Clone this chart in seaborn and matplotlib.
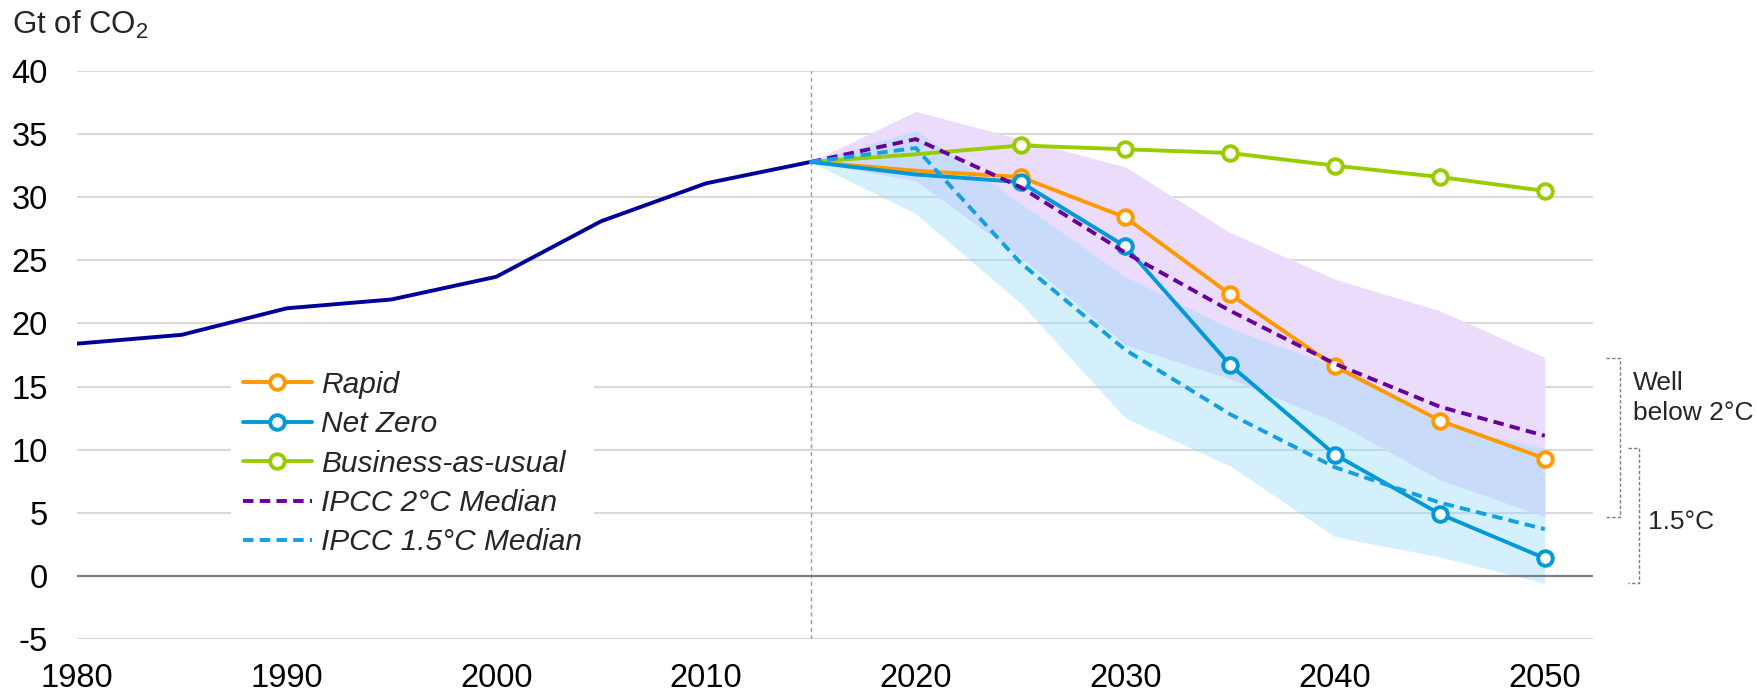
import numpy as np
import pandas as pd
import matplotlib
matplotlib.use("Agg")
import matplotlib.pyplot as plt
from matplotlib.lines import Line2D
import seaborn as sns

# ---- data -------------------------------------------------------------
hist_years = [1980, 1985, 1990, 1995, 2000, 2005, 2010, 2015]
hist_co2 = [18.4, 19.1, 21.2, 21.9, 23.7, 28.1, 31.1, 32.8]

scen_years = [2015, 2020, 2025, 2030, 2035, 2040, 2045, 2050]
rapid = [32.8, 32.1, 31.6, 28.4, 22.3, 16.6, 12.3, 9.3]
net_zero = [32.8, 31.8, 31.2, 26.1, 16.7, 9.6, 4.9, 1.4]
business_as_usual = [32.8, 33.4, 34.1, 33.8, 33.5, 32.5, 31.6, 30.5]
ipcc_2c_median = [32.8, 34.6, 30.8, 25.6, 21.0, 16.8, 13.4, 11.1]
ipcc_15c_median = [32.8, 33.9, 24.8, 17.9, 12.8, 8.6, 5.8, 3.7]

# IPCC scenario ranges
ipcc_2c_high = [32.8, 36.8, 34.6, 32.4, 27.2, 23.5, 21.0, 17.3]
ipcc_2c_low = [32.8, 31.3, 25.3, 18.3, 15.6, 12.2, 7.6, 4.7]
ipcc_15c_high = [32.8, 35.3, 29.5, 23.7, 19.6, 16.6, 12.0, 10.1]
ipcc_15c_low = [32.8, 28.7, 21.6, 12.5, 8.7, 3.1, 1.5, -0.6]

y_ticks = [-5, 0, 5, 10, 15, 20, 25, 30, 35, 40]
x_ticks = [1980, 1990, 2000, 2010, 2020, 2030, 2040, 2050]

# ---- style ------------------------------------------------------------
sns.set_theme(style="white")
plt.rcParams["font.family"] = ["Liberation Sans", "DejaVu Sans"]
plt.rcParams["mathtext.default"] = "regular"

C_HIST = "#000099"
C_RAPID = "#FF9900"
C_NZ = "#0099D8"
C_BAU = "#99CC00"
C_2C = "#660099"
C_15C = "#14A0E0"

fig = plt.figure(figsize=(17.57, 6.95), dpi=100)
ax = fig.add_axes([77 / 1757, 1 - 639 / 695, (1593 - 77) / 1757, (639 - 71) / 695])

ax.set_xlim(1980, 2052.3)
ax.set_ylim(-5, 40)

# grid
for v in y_ticks:
    if v == 0:
        continue
    ax.axhline(v, color="#D9D9D9", lw=1.5, zorder=0)
ax.axhline(0, color="#7F7F7F", lw=1.6, zorder=5.5)
ax.axvline(2015, color="#9A9A9A", lw=1.0, ls=(0, (3, 2.5)), zorder=0.6)

# ranges
ax.fill_between(scen_years, ipcc_2c_low, ipcc_2c_high, color="#EBDCFC", lw=0, zorder=1)
ax.fill_between(scen_years, ipcc_15c_low, ipcc_15c_high, color=(145 / 255, 218 / 255, 250 / 255),
                alpha=0.38, lw=0, zorder=1.1)

LW = 2.8
MS = 10.5
MEW = 2.8
mk = dict(marker="o", markersize=MS, markerfacecolor="white", markeredgewidth=MEW,
          markevery=list(range(2, len(scen_years))))

hist_df = pd.DataFrame({"year": hist_years, "co2": hist_co2})
sns.lineplot(data=hist_df, x="year", y="co2", color=C_HIST, linewidth=LW, ax=ax, zorder=3)

for vals, col, z in [(business_as_usual, C_BAU, 3), (rapid, C_RAPID, 3.1), (net_zero, C_NZ, 3.2)]:
    df = pd.DataFrame({"year": scen_years, "co2": vals})
    sns.lineplot(data=df, x="year", y="co2", color=col, linewidth=LW, ax=ax, zorder=z,
                 markeredgecolor=col, **mk)

dash = (0, (2.7, 1.6))
for vals, col in [(ipcc_2c_median, C_2C), (ipcc_15c_median, C_15C)]:
    df = pd.DataFrame({"year": scen_years, "co2": vals})
    sns.lineplot(data=df, x="year", y="co2", color=col, linewidth=LW, linestyle=dash, ax=ax, zorder=3.5)

# axes cosmetics
sns.despine(ax=ax, left=True, bottom=True)
ax.set_xticks(x_ticks)
ax.set_yticks(y_ticks)
ax.set_xticklabels([str(t) for t in x_ticks])
ax.set_yticklabels([str(t) for t in y_ticks])
ax.tick_params(axis="both", length=0, labelsize=23.5, colors="black")
ax.tick_params(axis="y", pad=21)
ax.tick_params(axis="x", pad=17)
ax.set_xlabel("")
ax.set_ylabel("")

fig.text(12 / 1757, 1 - 34 / 695, "Gt of CO$_2$", fontsize=22.5, ha="left", va="baseline")

# legend
def marker_handle(col):
    return Line2D([], [], color=col, lw=LW, marker="o", markersize=MS, markerfacecolor="white",
                  markeredgecolor=col, markeredgewidth=MEW)

handles = [
    marker_handle(C_RAPID),
    marker_handle(C_NZ),
    marker_handle(C_BAU),
    Line2D([], [], color=C_2C, lw=LW, ls=dash),
    Line2D([], [], color=C_15C, lw=LW, ls=dash),
]
labels = ["Rapid", "Net Zero", "Business-as-usual", "IPCC 2°C Median", "IPCC 1.5°C Median"]
leg = ax.legend(handles, labels, loc="upper left", bbox_to_anchor=(231 / 1757, 1 - 359 / 695),
                bbox_transform=fig.transFigure, borderaxespad=0, frameon=True, fancybox=False,
                facecolor="white", edgecolor="none", framealpha=1, handlelength=2.3,
                handletextpad=0.3, labelspacing=0.38, borderpad=0.4,
                prop={"size": 21.5, "style": "italic"})
leg.set_zorder(5)

# scenario range brackets at the right
def bracket(x0, x1, top, bottom):
    ax.plot([x0, x1, x1, x0], [top, top, bottom, bottom], color="#7F7F7F", lw=1.0,
            ls=(0, (2.5, 1.5)), clip_on=False, zorder=4)

bracket(2052.9, 2053.57, ipcc_2c_high[-1], ipcc_2c_low[-1])
bracket(2053.95, 2054.5, ipcc_15c_high[-1], ipcc_15c_low[-1])
ax.text(2054.2, 14.1, "Well\nbelow 2°C", fontsize=19, ha="left", va="center", linespacing=1.35)
ax.text(2054.9, 4.3, "1.5°C", fontsize=19, ha="left", va="center")

fig.savefig("out.png", dpi=100)
